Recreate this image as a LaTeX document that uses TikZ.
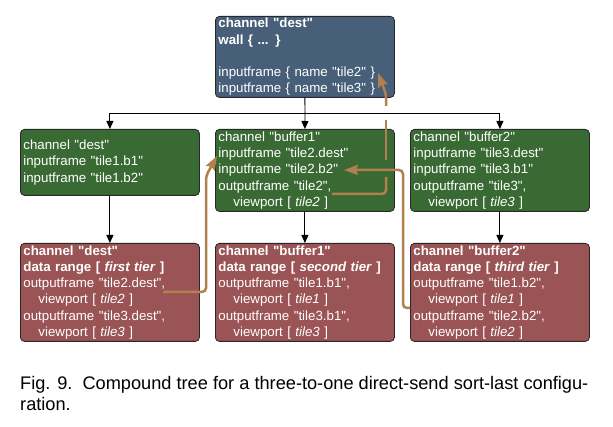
\documentclass[tikz,border=0pt]{standalone}
\usepackage{fontspec}
\setmainfont{Liberation Sans}[Ligatures=TeXOff]
\usetikzlibrary{arrows.meta}
\definecolor{topblue}{RGB}{71,95,121}
\definecolor{grn}{RGB}{58,106,52}
\definecolor{rd}{RGB}{155,84,86}
\definecolor{brn}{RGB}{176,128,78}
\definecolor{edgec}{RGB}{40,40,40}
\begin{document}
\begin{tikzpicture}[x=1pt,y=-1pt,
  boxbase/.style={draw=edgec, line width=0.8pt, rounded corners=4pt, text=white,
    align=left, text width=173pt, inner xsep=3pt, inner ysep=0pt,
    minimum width=179pt, anchor=north west,
    font=\fontsize{13.3}{16.2}\selectfont},
  topbox/.style={boxbase, fill=topblue, minimum height=81pt},
  grnbox/.style={boxbase, fill=grn},
  redbox/.style={boxbase, fill=rd, minimum height=98pt},
  conn/.style={draw=black, line width=0.9pt},
  connarrow/.style={conn, -{Triangle[length=8pt,width=7pt]}},
  brline/.style={draw=brn, line width=2.5pt, rounded corners=4pt},
  brarrow/.style={brline, -{Stealth[length=14pt,width=10pt,inset=2pt]}},
  captext/.style={anchor=base west, inner sep=0pt, font=\fontsize{18.2}{21}\selectfont}
]
\useasboundingbox (0,0) rectangle (613,427);

% top box
\node[topbox] (top) at (215,16) {\textbf{channel "dest"}\\
\textbf{wall \{ ... \}}\\
\mbox{}\\
inputframe \{ name "tile2" \}\\
inputframe \{ name "tile3" \}};

% green row
\node[grnbox, minimum height=66pt] (gl) at (20,129) {channel "dest"\\
inputframe "tile1.b1"\\
inputframe "tile1.b2"};
\node[grnbox, minimum height=82pt] (gm) at (215,129) {channel "buffer1"\\
inputframe "tile2.dest"\\
inputframe "tile2.b2"\\
outputframe "tile2",\\
\hspace*{15pt}viewport [ \textit{tile2} ]};
\node[grnbox, minimum height=82pt] (gr) at (410,129) {channel "buffer2"\\
inputframe "tile3.dest"\\
inputframe "tile3.b1"\\
outputframe "tile3",\\
\hspace*{15pt}viewport [ \textit{tile3} ]};

% red row
\node[redbox] (rl) at (20,243) {\textbf{channel "dest"}\\
\textbf{data range [ \textit{first tier} ]}\\
outputframe "tile2.dest",\\
\hspace*{15pt}viewport [ \textit{tile2} ]\\
outputframe "tile3.dest",\\
\hspace*{15pt}viewport [ \textit{tile3} ]};
\node[redbox] (rm) at (215,243) {\textbf{channel "buffer1"}\\
\textbf{data range [ \textit{second tier} ]}\\
outputframe "tile1.b1",\\
\hspace*{15pt}viewport [ \textit{tile1} ]\\
outputframe "tile3.b1",\\
\hspace*{15pt}viewport [ \textit{tile3} ]};
\node[redbox] (rr) at (410,243) {\textbf{channel "buffer2"}\\
\textbf{data range [ \textit{third tier} ]}\\
outputframe "tile1.b2",\\
\hspace*{15pt}viewport [ \textit{tile1} ]\\
outputframe "tile2.b2",\\
\hspace*{15pt}viewport [ \textit{tile2} ]};

% black tree connectors
\coordinate (jn) at (305,113);
\draw[conn] (top.south) -- (jn);
\draw[connarrow] (jn) -| (gl.north);
\draw[connarrow] (jn) -- (gm.north);
\draw[connarrow] (jn) -| (gr.north);
\draw[connarrow] (gl.south) -- (rl.north);
\draw[connarrow] (gm.south) -- (rm.north);
\draw[connarrow] (gr.south) -- (rr.north);

% brown data-flow arrows
\coordinate (a1s) at (163,292);
\coordinate (a1e) at (217,156);
\draw[brarrow] (a1s) -- (206,292) -- (206,176) -- (a1e);

\coordinate (a2s) at (410,308);
\coordinate (a2e) at (344,170);
\draw[brarrow] (a2s) -- (403,308) -- (403,170) -- (a2e);

\coordinate (a3s) at (332,194);
\coordinate (a3e) at (378,73);
\draw[brline] (a3s) -- (386,194) -- (386,177);
\draw[brline] (386,160) -- (386,120);
\draw[brarrow] (386,106) -- (386,94) -- (a3e);

% caption
\node[captext] (cap1) at (20,389) {Fig. 9.\ \ Compound tree for a three-to-one direct-send sort-last configu-};
\node[captext] (cap2) at (20,410) {ration.};
\end{tikzpicture}
\end{document}
